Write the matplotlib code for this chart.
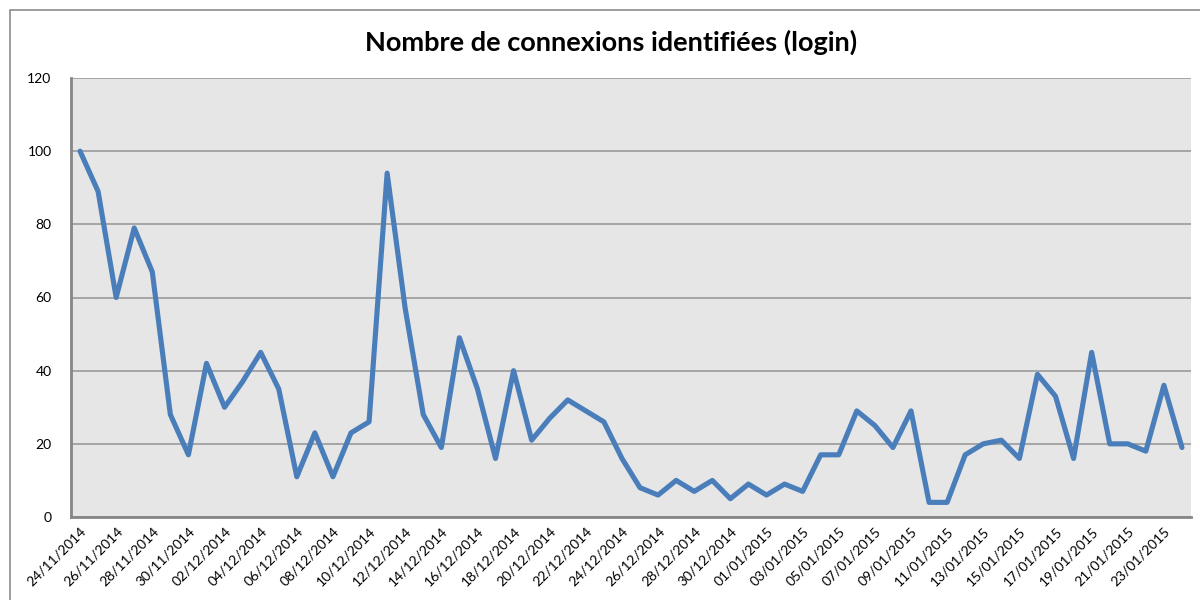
import matplotlib.pyplot as plt
import numpy as np
import pandas as pd
from matplotlib.patches import Rectangle

plt.rcParams["font.family"] = ["Lato", "DejaVu Sans"]

DATES = pd.date_range("2014-11-24", "2015-01-24", freq="D")
CONNEXIONS = [
    100, 89, 60, 79, 67, 28, 17, 42, 30, 37,
    45, 35, 11, 23, 11, 23, 26, 94, 57, 28,
    19, 49, 35, 16, 40, 21, 27, 32, 29, 26,
    16, 8, 6, 10, 7, 10, 5, 9, 6, 9,
    7, 17, 17, 29, 25, 19, 29, 4, 4, 17,
    20, 21, 16, 39, 33, 16, 45, 20, 20, 18,
    36, 19,
]
TITLE = "Nombre de connexions identifiées (login)"


def main() -> None:
    fig = plt.figure(figsize=(12, 6), dpi=100)
    ax = fig.add_axes([71 / 1200, 1 - 517 / 600, 1120 / 1200, 439 / 600])

    # cadre du graphique (coupé à droite et en bas)
    fig.patches.append(
        Rectangle((10 / 1200, -0.05), 1.2, 1 - 10 / 600 + 0.05,
                  transform=fig.transFigure, fill=False, edgecolor="#8c8c8c", linewidth=1.2)
    )

    x = np.arange(len(CONNEXIONS))
    ax.set_facecolor("#e6e6e6")
    ax.plot(x, CONNEXIONS, color="#4a7ebb", linewidth=3.7, solid_joinstyle="round",
            solid_capstyle="round", zorder=3)

    ax.set_xlim(-0.5, len(CONNEXIONS) - 0.5)
    ax.set_ylim(0, 120)
    ax.set_yticks(range(0, 121, 20))
    ax.grid(axis="y", color="#9a9a9a", linewidth=1.2)
    ax.set_axisbelow(True)

    ticks = x[::2]
    ax.set_xticks(ticks)
    ax.set_xticklabels([DATES[i].strftime("%d/%m/%Y") for i in ticks], rotation=45,
                       ha="right", rotation_mode="anchor", fontsize=10)
    ax.tick_params(axis="both", length=0, labelsize=10, colors="black")
    ax.tick_params(axis="y", pad=14)
    ax.tick_params(axis="x", pad=6)

    for side in ("top", "right"):
        ax.spines[side].set_visible(False)
    for side in ("left", "bottom"):
        ax.spines[side].set_color("#868686")
        ax.spines[side].set_linewidth(2)

    fig.text(611 / 1200, 1 - 42 / 600, TITLE, ha="center", va="center",
             fontsize=19.5, fontweight="bold")

    fig.savefig("out.png", dpi=100)


if __name__ == "__main__":
    main()
